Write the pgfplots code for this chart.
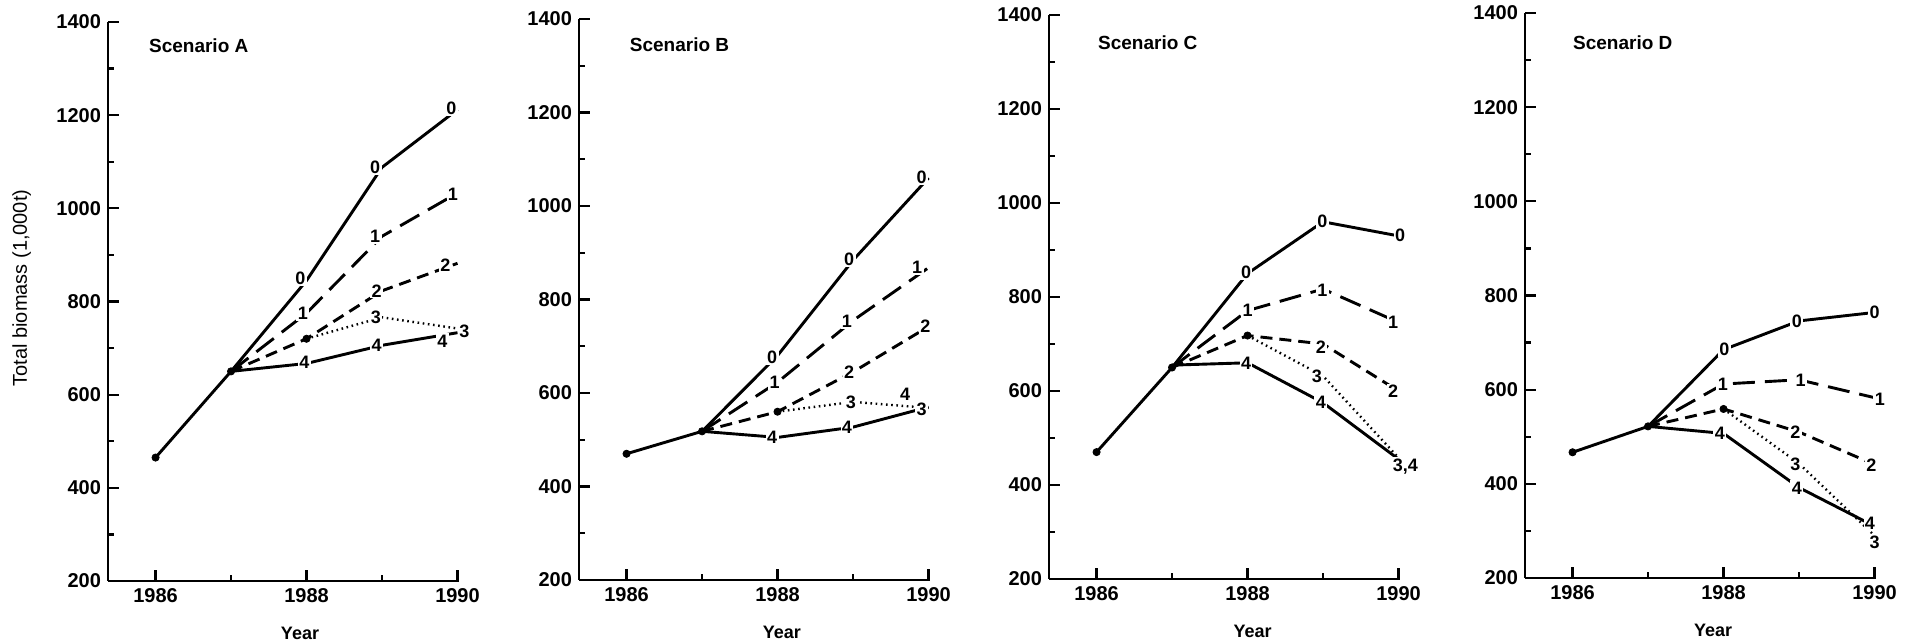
\documentclass[border=0pt]{standalone}
\usepackage{fontspec}
\setmainfont{Liberation Sans}
\usepackage{pgfplots}
\pgfplotsset{compat=1.18}
\tikzset{scen/.style={anchor=west, font=\fontsize{9.5}{11}\selectfont\bfseries}}
\pgfplotsset{
  panel/.style={
    scale only axis, width=175.5pt, anchor=south west,
    xmin=1985.37, xmax=1990.02, ymin=200, ymax=1400,
    axis lines=left, axis line style={-, line width=1.4pt},
    xtick={1986,1988,1990}, minor xtick={1987,1989},
    ytick={200,400,...,1400}, minor ytick={300,500,...,1300},
    tick align=inside, major tick length=5.5pt, minor tick length=3pt,
    tick style={line width=1.1pt, black},
    /pgf/number format/assume math mode=true,
    /pgf/number format/1000 sep={},
    ticklabel style={font=\fontsize{10}{11}\selectfont\bfseries},
    xlabel={Year},
    clip=false,
  },
  s0/.style={black, line width=1.45pt, solid, mark=none},
  s1/.style={black, line width=1.45pt, dash pattern=on 11pt off 5pt, mark=none},
  s2/.style={black, line width=1.45pt, dash pattern=on 6pt off 3.5pt, mark=none},
  s3/.style={black, line width=1.2pt, dash pattern=on 0.8pt off 1.8pt, mark=none},
  s4/.style={black, line width=1.45pt, solid, mark=none},
  dots/.style={black, only marks, mark=*, mark size=1.8pt},
  lab/.style={draw=none, mark=none, nodes near coords, nodes near coords align={center},
    point meta=explicit symbolic,
    every node near coord/.style={font=\fontsize{9}{10}\selectfont\bfseries, fill=white, inner sep=0.7pt, anchor=center, text=black}},
}
\begin{document}
\begin{tikzpicture}
\useasboundingbox (0,0) rectangle (953.5pt,321pt);
% ---------------- Scenario A
\begin{axis}[panel, at={(54pt,30.5pt)}, height=279.5pt,
  ylabel={Total biomass (1,000t)},
  ylabel style={at={(axis description cs:-0.246,0.524)}, anchor=center, font=\fontsize{10}{11}\selectfont},
  xlabel style={at={(axis description cs:0.547,0)}, anchor=center, yshift=-26pt, font=\fontsize{9}{10}\selectfont\bfseries}]
\addplot[s0] coordinates {(1986,465) (1987,650)};
\addplot[s0] coordinates {(1987,650) (1988,845) (1989,1088) (1990,1212)};
\addplot[s1] coordinates {(1987,650) (1988,775) (1989,940) (1990,1033)};
\addplot[s2] coordinates {(1987,650) (1988,720) (1989,823) (1990,882)};
\addplot[s3] coordinates {(1988,720) (1989,766) (1990,742)};
\addplot[s4] coordinates {(1987,650) (1988,667) (1989,706) (1990,733)};
\addplot[dots] coordinates {(1986,465) (1987,650) (1988,720)};
\addplot[lab] coordinates {(1987.92,850)[0] (1988.91,1088)[0] (1989.92,1215)[0]
  (1987.95,775)[1] (1988.91,940)[1] (1989.94,1030)[1]
  (1988.93,823)[2] (1989.84,878)[2]
  (1988.92,766)[3] (1990.09,735)[3]
  (1987.97,669)[4] (1988.93,706)[4] (1989.80,715)[4]};
\node[scen] at (rel axis cs:0.097,0.958) {Scenario A};
\end{axis}
% ---------------- Scenario B
\begin{axis}[panel, at={(289.5pt,31pt)}, height=280.5pt,
  xlabel style={at={(axis description cs:0.578,0)}, anchor=center, yshift=-26pt, font=\fontsize{9}{10}\selectfont\bfseries}]
\addplot[s0] coordinates {(1986,470) (1987,518)};
\addplot[s0] coordinates {(1987,518) (1988,680) (1989,884) (1990,1060)};
\addplot[s1] coordinates {(1987,518) (1988,623) (1989,755) (1990,868)};
\addplot[s2] coordinates {(1987,518) (1988,560) (1989,645) (1990,742)};
\addplot[s3] coordinates {(1988,560) (1989,581) (1990,568)};
\addplot[s4] coordinates {(1987,518) (1988,505) (1989,527) (1990,570)};
\addplot[dots] coordinates {(1986,470) (1987,518) (1988,560)};
\addplot[lab] coordinates {(1987.93,676)[0] (1988.95,886)[0] (1989.91,1061)[0]
  (1987.96,623)[1] (1988.92,753)[1] (1989.85,868)[1]
  (1988.95,645)[2] (1989.96,742)[2]
  (1988.97,581)[3] (1989.91,566)[3]
  (1987.93,505)[4] (1988.92,527)[4] (1989.69,597)[4]};
\node[scen] at (rel axis cs:0.125,0.954) {Scenario B};
\end{axis}
% ---------------- Scenario C
\begin{axis}[panel, at={(524.5pt,31.5pt)}, height=282pt,
  xlabel style={at={(axis description cs:0.58,0)}, anchor=center, yshift=-26pt, font=\fontsize{9}{10}\selectfont\bfseries}]
\addplot[s0] coordinates {(1986,470) (1987,650)};
\addplot[s0] coordinates {(1987,650) (1988,850) (1989,960) (1990,930)};
\addplot[s1] coordinates {(1987,650) (1988,771) (1989,817) (1990,746)};
\addplot[s2] coordinates {(1987,650) (1988,718) (1989,700) (1990,600)};
\addplot[s3] coordinates {(1988,718) (1989,632) (1990,458)};
\addplot[s4] coordinates {(1987,655) (1988,660) (1989,575) (1990,455)};
\addplot[dots] coordinates {(1986,470) (1987,650) (1988,718)};
\addplot[lab] coordinates {(1987.98,852)[0] (1988.99,961)[0] (1990.02,931)[0]
  (1988.00,771)[1] (1988.99,815)[1] (1989.93,746)[1]
  (1988.97,694)[2] (1989.93,599)[2]
  (1988.92,632)[3]
  (1987.98,659)[4] (1988.97,575)[4] (1990.09,440)[{3,4}]};
\node[scen] at (rel axis cs:0.12,0.950) {Scenario C};
\end{axis}
% ---------------- Scenario D
\begin{axis}[panel, at={(762.5pt,32pt)}, height=282.5pt,
  xlabel style={at={(axis description cs:0.536,0)}, anchor=center, yshift=-26pt, font=\fontsize{9}{10}\selectfont\bfseries}]
\addplot[s0] coordinates {(1986,467) (1987,522)};
\addplot[s0] coordinates {(1987,522) (1988,685) (1989,746) (1990,764)};
\addplot[s1] coordinates {(1987,522) (1988,612) (1989,621) (1990,583)};
\addplot[s2] coordinates {(1987,522) (1988,559) (1989,510) (1990,441)};
\addplot[s3] coordinates {(1988,559) (1989,443) (1990,290)};
\addplot[s4] coordinates {(1987,522) (1988,507) (1989,392) (1990,310)};
\addplot[dots] coordinates {(1986,467) (1987,522) (1988,559)};
\addplot[lab] coordinates {(1988.01,685)[0] (1988.97,746)[0] (1990.00,764)[0]
  (1987.99,612)[1] (1989.02,620)[1] (1990.07,580)[1]
  (1988.95,510)[2] (1989.96,439)[2]
  (1988.95,442)[3] (1990.00,276)[3]
  (1987.95,507)[4] (1988.97,391)[4] (1989.94,317)[4]};
\node[scen] at (rel axis cs:0.117,0.947) {Scenario D};
\end{axis}
\end{tikzpicture}
\end{document}
